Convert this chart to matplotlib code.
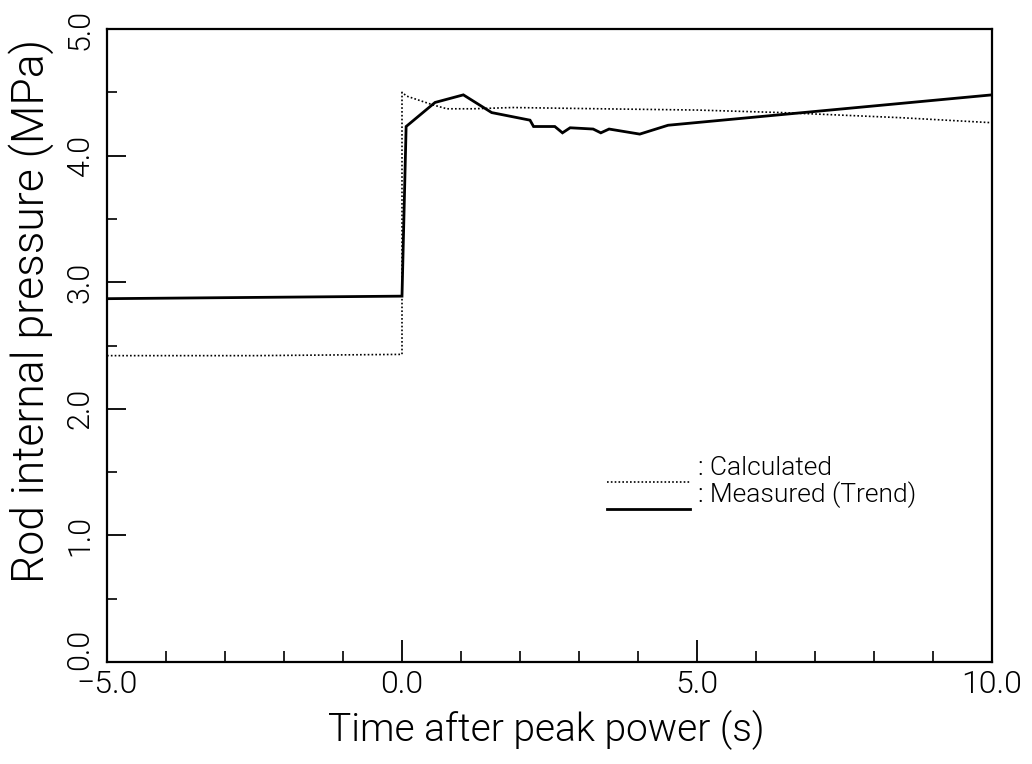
import matplotlib
matplotlib.use("Agg")
import matplotlib.pyplot as plt
import matplotlib.transforms as mtransforms
from matplotlib.ticker import MultipleLocator

# Data
calc_t = [-5.0, -2.5, 0.0, 0.0, 0.08, 0.53, 0.76, 1.2, 1.88, 3.36, 5.0, 6.44, 8.44, 10.0]
calc_p = [2.42, 2.42, 2.43, 4.50, 4.47, 4.40, 4.37, 4.37, 4.38, 4.37, 4.36, 4.34, 4.30, 4.26]

meas_t = [-5.0, -2.5, 0.0, 0.07, 0.56, 1.04, 1.52, 2.17, 2.23, 2.59, 2.72, 2.85,
          3.24, 3.37, 3.51, 4.03, 4.51, 10.0]
meas_p = [2.87, 2.88, 2.89, 4.23, 4.42, 4.48, 4.34, 4.28, 4.23, 4.23, 4.18, 4.22,
          4.21, 4.18, 4.21, 4.17, 4.24, 4.48]

x_ticks = [-5.0, 0.0, 5.0, 10.0]
y_ticks = [0.0, 1.0, 2.0, 3.0, 4.0, 5.0]
legend_labels = [": Calculated", ": Measured (Trend)"]

plt.rcParams['font.family'] = ['Roboto', 'DejaVu Sans']
plt.rcParams['font.weight'] = 300
plt.rcParams['axes.labelweight'] = 300

fig = plt.figure(figsize=(10.32, 7.64), dpi=100)
ax = fig.add_axes([0.1037, 0.1335, 0.8575, 0.8285])

ax.plot(calc_t, calc_p, color='black', lw=1.2, linestyle=(0, (1, 1.3)))
ax.plot(meas_t, meas_p, color='black', lw=2.0, solid_joinstyle='miter')

ax.set_xlim(-5, 10)
ax.set_ylim(0, 5)
ax.set_xticks(x_ticks)
ax.set_xticklabels([f"{v:.1f}".replace("-", "\u2212") for v in x_ticks])
ax.set_yticks(y_ticks)
ax.set_yticklabels([f"{v:.1f}" for v in y_ticks])
ax.xaxis.set_minor_locator(MultipleLocator(1.0))
ax.yaxis.set_minor_locator(MultipleLocator(0.5))

ax.tick_params(axis='x', which='major', direction='in', length=16, width=1.3,
               labelsize=23, pad=6, top=False)
ax.tick_params(axis='x', which='minor', direction='in', length=8, width=1.2, top=False)
ax.tick_params(axis='y', which='major', direction='in', length=14, width=1.3,
               labelsize=22, pad=9, right=False, labelrotation=90)
ax.tick_params(axis='y', which='minor', direction='in', length=7, width=1.2, right=False)
for lab in ax.get_yticklabels():
    lab.set_va('center')
for lab in ax.get_xticklabels() + ax.get_yticklabels():
    lab.set_fontweight(300)
# lift the "0.0" y label slightly so it clears the "-5.0" x label
ylabs = ax.get_yticklabels()
ylabs[0].set_transform(ylabs[0].get_transform() +
                       mtransforms.ScaledTranslation(0, 9 / 72, fig.dpi_scale_trans))

for s in ax.spines.values():
    s.set_linewidth(1.6)

ax.set_xlabel("Time after peak power (s)", fontsize=28, fontweight=300, va='center')
ax.xaxis.set_label_coords(0.496, -0.107)
ax.set_ylabel("Rod internal pressure (MPa)", fontsize=32, fontweight=300, va='center')
ax.yaxis.set_label_coords(-0.086, 0.555)

# Legend (manual, as in the reference)
ax.plot([0.565, 0.659], [0.285, 0.285], transform=ax.transAxes, color='black',
        lw=1.2, linestyle=(0, (1, 1.3)))
ax.plot([0.565, 0.659], [0.242, 0.242], transform=ax.transAxes, color='black', lw=2.0)
ax.text(0.668, 0.296, legend_labels[0], transform=ax.transAxes, fontsize=19,
        fontweight=300, va='baseline')
ax.text(0.668, 0.253, legend_labels[1], transform=ax.transAxes, fontsize=19,
        fontweight=300, va='baseline')

fig.savefig("out.png", dpi=100)
